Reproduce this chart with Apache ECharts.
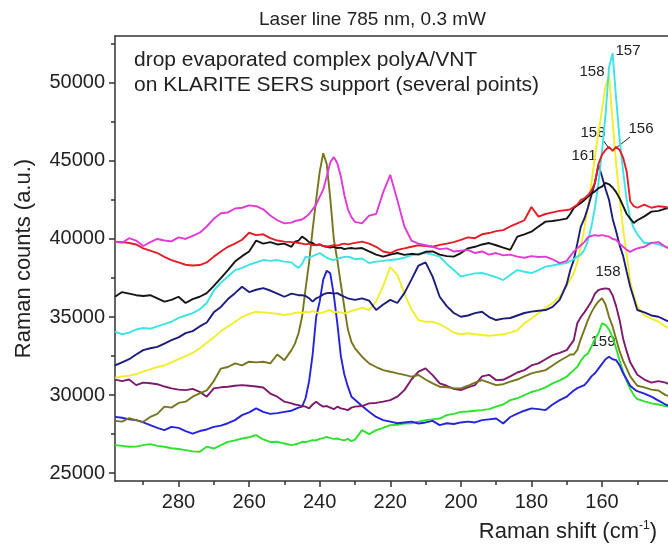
<!DOCTYPE html>
<html>
<head>
<meta charset="utf-8">
<script src="https://cdn.jsdelivr.net/npm/echarts@6/dist/echarts.min.js"></script>
<style>
  html, body { margin: 0; padding: 0; background: #fff; }
  #chart { width: 668px; height: 546px; }
</style>
</head>
<body>
<div id="chart"></div>
<script>
// Raman shift (cm-1), shared by all spectra
var shift = [
  298, 296, 294, 292, 290, 288, 286, 284, 282, 280, 278, 276, 274, 272, 270, 268, 266, 264, 262, 260, 258, 256, 254, 252, 250, 248,
  247, 246, 245, 244, 243, 242, 241, 240, 239, 238, 237, 236, 235, 234, 233, 232, 231, 230,
  228, 226, 224, 222, 220, 218, 216, 214, 212, 210, 208, 206, 204, 202, 200, 198, 196, 194, 192, 190, 188, 186, 184, 182, 180, 178, 176, 174, 172,
  170, 169, 168, 167, 166, 165, 164, 163, 162, 161, 160, 159, 158, 157, 156, 155, 154, 153, 152, 151, 150,
  148, 146, 144, 142, 140
];

var magenta = [
  39830, 39750, 40050, 39900, 39550, 39800, 40000, 39900, 39850, 40100, 40000, 40200, 40400, 40800, 41300, 41650, 41700, 41950, 42000, 42150, 42100, 41900, 41500, 41200, 41000, 41050,
  41150, 41200, 41250, 41400, 41600, 41900, 42200, 42700, 43150, 44000, 44900, 45250, 44850, 44000, 42800, 41900, 41400, 41100,
  41000, 41500, 41600, 43000, 44100, 42500, 40800, 39900, 39700, 39600, 39500, 39350, 39400, 39200, 39250, 39300, 39100, 39200, 39000, 39100, 38950, 39000, 38870, 38800, 38900, 38850, 38870, 38700, 38450,
  38600, 38900, 39200, 39400, 39600, 39800, 40100, 40200, 40250, 40200, 40250, 40200, 40150, 40000, 39950, 39700, 39500, 39300, 39180, 39300, 39400,
  39500, 39750, 39800, 39500, 39300
];
var red = [
  39830, 39800, 39740, 39650, 39400, 39250, 39100, 38850, 38650, 38500, 38350, 38300, 38330, 38500, 38870, 39200, 39500, 39700, 39950, 40400, 40250, 40300, 40050, 39900, 39830, 39800,
  39780, 39740, 39700, 39650, 39700, 39600, 39620, 39650, 39550, 39500, 39550, 39600, 39580, 39650, 39700, 39650, 39700, 39750,
  39830, 39700, 39500, 39200, 39100, 39300, 39400, 39500, 39600, 39550, 39500, 39620, 39700, 39800, 39940, 40100, 40050, 40300, 40380, 40500, 40570, 40800, 41000, 41200, 42050, 41430, 41600, 41700, 41800,
  41860, 41900, 42050, 42200, 42500, 42600, 42800, 43100, 43600, 44800, 45400, 45700, 45900, 45650, 45900, 45700, 45200, 44300, 42400, 42100, 42000,
  42200, 42000, 42100, 42050, 41900
];
var black = [
  36300, 36600, 36500, 36400, 36350, 36400, 36200, 35990, 36100, 36300, 35900, 36150, 36300, 36530, 37000, 37500, 38000, 38550, 38900, 39200, 39900, 39700, 39800, 39650, 39700, 39500,
  39830, 39900, 40150, 40000, 39800, 39740, 39600, 39650, 39550, 39500, 39450, 39500, 39420, 39450, 39350, 39400, 39420, 39380,
  39420, 39200, 39000, 38870, 39000, 39100, 38980, 39050, 39000, 39180, 39200, 39000, 38900, 38870, 39100, 39400, 39500, 39650, 39740, 39600, 39450, 39300, 40150, 40300, 40470, 40800, 41110, 41150, 41220,
  41300, 41600, 41990, 42150, 42300, 42500, 42700, 42900, 43050, 43250, 43350, 43590, 43500, 43300, 43000, 42600, 42100, 41600, 41300, 41030, 41200,
  41450, 41750, 41800, 41950, 42000
];
var cyan = [
  34060, 33900, 34000, 34200, 34300, 34250, 34400, 34550, 34700, 34950, 35100, 35250, 35500, 35900, 36700, 37200, 37600, 38000, 38150, 38350, 38500, 38650, 38600, 38650, 38550, 38500,
  38300, 38150, 38400, 38870, 38800, 38900, 39000, 39100, 38950, 38800, 38700, 38650, 38750, 38800, 38850, 38870, 38800, 38700,
  38750, 38460, 38550, 38600, 38650, 38700, 38800, 38950, 39050, 39100, 39000, 38870, 38400, 38010, 37600, 37700, 37800, 37820, 37700, 37550, 37370, 37700, 38010, 37900, 37820, 38000, 38230, 38300, 38400,
  38460, 38600, 38700, 38870, 39000, 39300, 39900, 40800, 42000, 43600, 45600, 48000, 51000, 51900, 49000, 46400, 44300, 42500, 41300, 40700, 40300,
  39740, 39750, 39650, 39500, 39300
];
var navy = [
  31900, 32100, 32300, 32600, 32880, 33000, 33090, 33300, 33520, 33700, 33970, 34100, 34400, 34650, 35300, 35650, 36150, 36530, 36940, 36600, 36750, 36850, 36700, 36500, 36300, 36500,
  36450, 36400, 36400, 36350, 36200, 35990, 36200, 36300, 36450, 36530, 36550, 36500, 36530, 36400, 36300, 36200, 36150, 36100,
  36200, 36050, 35450, 35800, 36100, 35900, 36530, 37400, 38300, 38500, 37590, 36300, 35700, 35260, 35020, 35100, 35250, 35340, 35000, 34810, 34900, 34940, 35100, 35260, 35350, 35400, 35450, 35650, 36100,
  37100, 38000, 38650, 39700, 40790, 41300, 42000, 42800, 43600, 44740, 44000, 43200, 42500, 41300, 40500, 39600, 38900, 37900, 36940, 36200, 35450,
  35300, 35100, 35020, 34800, 34600
];
var yellow = [
  31100, 31200, 31250, 31350, 31500, 31650, 31800, 31900, 32100, 32300, 32500, 32700, 33000, 33350, 33700, 34100, 34400, 34700, 35000, 35200, 35340, 35300, 35260, 35200, 35130, 35200,
  35260, 35300, 35250, 35340, 35300, 35400, 35300, 35240, 35300, 35400, 35450, 35300, 35340, 35300, 35240, 35300, 35400, 35450,
  35600, 35450, 36000, 37000, 38200, 37700, 36500, 35500, 34800, 34700, 34700, 34550, 34300, 34000, 33900, 33960, 33900, 33850, 33800, 33850, 33900, 34000, 34150, 34600, 34900, 35240, 35600, 35900, 36300,
  37000, 37400, 37800, 38500, 39500, 40700, 42000, 43600, 45300, 46800, 48300, 49800, 50500, 47600, 44800, 42600, 40600, 39000, 37300, 36400, 35700,
  35100, 34900, 34700, 34400, 34100
];
var olive = [
  28350, 28300, 28530, 28400, 28290, 28600, 28800, 29260, 29200, 29500, 29580, 29900, 30110, 30300, 30900, 31700, 31800, 32030, 31900, 32140, 32100, 32140, 32030, 32600, 32240, 32880,
  33300, 33960, 35000, 36800, 38500, 40600, 42500, 44300, 45490, 44800, 42600, 40000, 38650, 37100, 35600, 34200, 33400, 33000,
  32460, 32030, 31800, 31600, 31500, 31390, 31300, 31180, 31290, 31000, 30750, 30540, 30500, 30450, 30430, 30600, 30800, 30960, 30800, 30640, 30700, 30860, 31000, 31200, 31390, 31500, 31600, 31900, 32200,
  32460, 32600, 32600, 32900, 33600, 34200, 34800, 35300, 35700, 36000, 36200, 35800, 35000, 34400, 33600, 32800, 32200, 31700, 31200, 30900, 30600,
  30500, 30350, 30300, 30000, 29900
];
var purple = [
  30990, 30900, 31000, 30640, 30800, 30760, 30700, 30550, 30430, 30350, 30320, 30400, 30210, 29900, 30430, 30500, 30540, 30600, 30640, 30600, 30550, 30490, 30100, 29900, 29580, 29470,
  29400, 29360, 29300, 29260, 29150, 29400, 29580, 29400, 29260, 29300, 29200, 29100, 29260, 29150, 29100, 29040, 29200, 29260,
  29300, 29470, 29500, 29580, 29680, 29900, 30320, 31000, 31500, 31710, 31280, 30750, 30600, 30400, 30320, 30500, 30640, 31200, 31300, 30960, 30980, 31200, 31450, 31600, 31900, 32030, 32300, 32560, 32700,
  32880, 33200, 33520, 34600, 35000, 35300, 35650, 36000, 36500, 36730, 36800, 36840, 36800, 36400, 35700, 34800, 33600, 32800, 32100, 31700, 31300,
  31000, 30800, 30900, 30800, 30600
];
var blue = [
  28610, 28550, 28450, 28400, 28250, 28080, 27900, 27760, 27970, 27900, 27700, 27540, 27700, 27800, 27970, 28050, 28200, 28400, 28720, 28900, 29150, 28930, 28800, 28850, 28930, 29000,
  29100, 29200, 29260, 29800, 30900, 32600, 35000, 36000, 37400, 37970, 37800, 36400, 34600, 32500, 31300, 30540, 29900, 29700,
  29300, 28930, 28600, 28400, 28300, 28200, 28250, 28300, 28180, 28250, 28350, 28080, 28200, 28150, 28250, 28300, 28250, 28400, 28450, 28500, 28180, 28600, 28820, 29000, 29150, 29100, 29040, 29400, 29680,
  29900, 30110, 30300, 30450, 30550, 30640, 30900, 31200, 31400, 31700, 32000, 32300, 32460, 32300, 32240, 31900, 31400, 31000, 30600, 30400, 30250,
  30100, 29900, 29650, 29400, 29200
];
var green = [
  26800, 26750, 26690, 26700, 26800, 26860, 26750, 26690, 26600, 26550, 26480, 26400, 26370, 26700, 26580, 26800, 27010, 27100, 27220, 27300, 27440, 27160, 27000, 27010, 26900, 26800,
  26850, 26900, 27010, 27000, 27050, 27120, 27100, 27200, 27250, 27330, 27250, 27200, 27220, 27150, 27100, 27200, 27050, 27150,
  27760, 27500, 27760, 27900, 28080, 28100, 28180, 28200, 28300, 28400, 28450, 28500, 28720, 28800, 28930, 28950, 29000, 29040, 29100, 29260, 29400, 29680, 29800, 30000, 30200, 30320, 30500, 30750, 30950,
  31180, 31400, 31600, 31820, 32200, 32500, 32670, 33100, 33600, 33960, 34600, 34500, 34200, 33700, 33000, 32200, 31500, 30900, 30400, 30000, 29750,
  29600, 29470, 29400, 29300, 29200
];

var xTicks = [280, 260, 240, 220, 200, 180, 160];
var xMinorTicks = [290, 270, 250, 230, 210, 190, 170, 150];
var yTicks = [25000, 30000, 35000, 40000, 45000, 50000];
var yMinorTicks = [27500, 32500, 37500, 42500, 47500, 52500];

var spectra = [
  { data: green, color: '#2ee12e' },
  { data: blue, color: '#2424dc' },
  { data: purple, color: '#7c1a6e' },
  { data: olive, color: '#77751e' },
  { data: yellow, color: '#f2ee2c' },
  { data: navy, color: '#1c1c7c' },
  { data: cyan, color: '#3ee3e6' },
  { data: black, color: '#151515' },
  { data: red, color: '#e41e26' },
  { data: magenta, color: '#e23ad6' }
];

var FONT = 'Liberation Sans, Arial, sans-serif';
var chart = echarts.init(document.getElementById('chart'));

var xBase = { type: 'value', min: 141.3, max: 298, inverse: true, splitLine: { show: false } };
var yBase = { type: 'value', min: 24500, max: 53000, splitLine: { show: false } };

var option = {
  animation: false,
  backgroundColor: '#fff',
  title: {
    text: 'Laser line 785 nm, 0.3 mW',
    left: 254, top: 5,
    textStyle: { fontFamily: FONT, fontSize: 19, fontWeight: 'normal', color: '#222' }
  },
  grid: { left: 115, right: 0, top: 36, bottom: 65 },
  xAxis: [
    Object.assign({}, xBase, {
      position: 'bottom',
      axisLine: { lineStyle: { color: '#333', width: 1.5 } },
      axisTick: { customValues: xTicks, length: 6, lineStyle: { color: '#333', width: 1.5 } },
      axisLabel: { customValues: xTicks, margin: 11, fontFamily: FONT, fontSize: 20, color: '#222' }
    }),
    Object.assign({}, xBase, {
      position: 'bottom',
      axisLine: { show: false },
      axisTick: { customValues: xMinorTicks, length: 4, lineStyle: { color: '#333', width: 1.5 } },
      axisLabel: { show: false }
    }),
    Object.assign({}, xBase, {
      position: 'top',
      axisLine: { lineStyle: { color: '#333', width: 1.5 } },
      axisTick: { show: false },
      axisLabel: { show: false }
    })
  ],
  yAxis: [
    Object.assign({}, yBase, {
      position: 'left',
      name: 'Raman counts (a.u.)',
      nameLocation: 'middle',
      nameGap: 80,
      nameTextStyle: { fontFamily: FONT, fontSize: 22, color: '#222' },
      axisLine: { show: true, lineStyle: { color: '#333', width: 1.5 } },
      axisTick: { show: true, customValues: yTicks, length: 6, lineStyle: { color: '#333', width: 1.5 } },
      axisLabel: {
        customValues: yTicks, margin: 10, fontFamily: FONT, fontSize: 20, color: '#222',
        formatter: function (v) { return String(v); }
      }
    }),
    Object.assign({}, yBase, {
      position: 'left',
      axisLine: { show: false },
      axisTick: { show: true, customValues: yMinorTicks, length: 4, lineStyle: { color: '#333', width: 1.5 } },
      axisLabel: { show: false }
    })
  ],
  series: spectra.map(function (s) {
    return {
      type: 'line',
      showSymbol: false,
      clip: true,
      xAxisIndex: 0,
      yAxisIndex: 0,
      data: shift.map(function (x, i) { return [x, s.data[i]]; }),
      lineStyle: { color: s.color, width: 1.9 },
      itemStyle: { color: s.color }
    };
  }),
  graphic: [
    { type: 'text', left: 134, top: 50, style: { text: 'drop evaporated complex polyA/VNT', font: '21px ' + FONT, fill: '#222' } },
    { type: 'text', left: 134, top: 75, style: { text: 'on KLARITE SERS support (several points)', font: '21px ' + FONT, fill: '#222' } },
    { type: 'text', x: 628, y: 51, style: { text: '157', font: '15px ' + FONT, fill: '#222', align: 'center', verticalAlign: 'middle' } },
    { type: 'text', x: 592, y: 72, style: { text: '158', font: '15px ' + FONT, fill: '#222', align: 'center', verticalAlign: 'middle' } },
    { type: 'text', x: 593, y: 133, style: { text: '158', font: '15px ' + FONT, fill: '#222', align: 'center', verticalAlign: 'middle' } },
    { type: 'text', x: 641, y: 129, style: { text: '156', font: '15px ' + FONT, fill: '#222', align: 'center', verticalAlign: 'middle' } },
    { type: 'text', x: 584, y: 156, style: { text: '161', font: '15px ' + FONT, fill: '#222', align: 'center', verticalAlign: 'middle' } },
    { type: 'text', x: 608, y: 272, style: { text: '158', font: '15px ' + FONT, fill: '#222', align: 'center', verticalAlign: 'middle' } },
    { type: 'text', x: 603, y: 342, style: { text: '159', font: '15px ' + FONT, fill: '#222', align: 'center', verticalAlign: 'middle' } },
    { type: 'line', shape: { x1: 603, y1: 140, x2: 608, y2: 147 }, style: { stroke: '#222', lineWidth: 1 } },
    { type: 'line', shape: { x1: 630, y1: 137, x2: 616, y2: 148 }, style: { stroke: '#222', lineWidth: 1 } },
    {
      type: 'text', x: 657, y: 532,
      style: {
        text: 'Raman shift (cm{s|-1})',
        font: '22px ' + FONT, fill: '#222', align: 'right', verticalAlign: 'middle',
        rich: { s: { fontSize: 12, fontFamily: FONT, fill: '#222', verticalAlign: 'top', lineHeight: 25 } }
      }
    }
  ]
};

chart.setOption(option);
window.onresize = function () { chart.resize(); };
</script>
</body>
</html>
